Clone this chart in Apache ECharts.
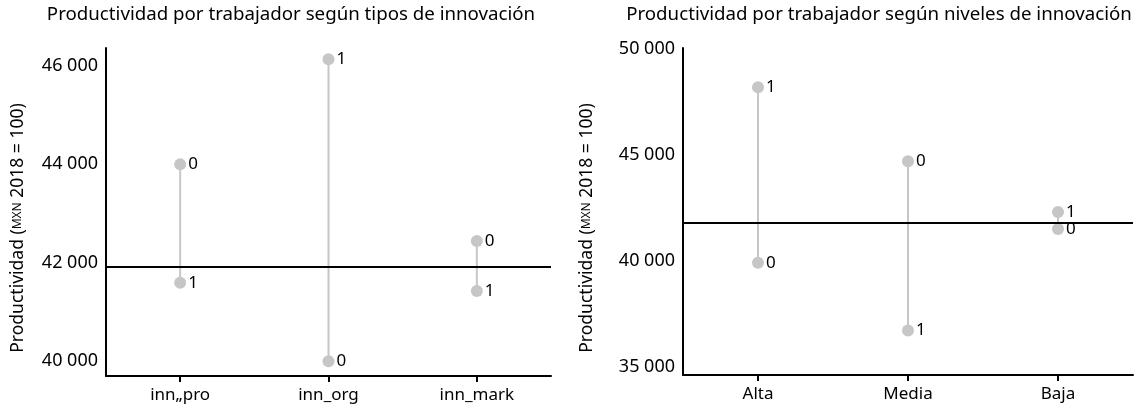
<!DOCTYPE html>
<html>
<head>
<meta charset="utf-8">
<script src="https://cdn.jsdelivr.net/npm/echarts@6/dist/echarts.min.js"></script>
<style>
  html, body { margin: 0; padding: 0; background: #fff; }
  #main { width: 1138px; height: 413px; }
</style>
</head>
<body>
<div id="main"></div>
<script>
// tipos de innovacion (left panel)
var tiposCats = ['inn\u201epro', 'inn_org', 'inn_mark'];
var tipos0 = [44000, 39990, 42440];
var tipos1 = [41590, 46140, 41420];
var tiposRef = 41920;
var tiposTicks = [40000, 42000, 44000, 46000];

// niveles de innovacion (right panel)
var nivelesCats = ['Alta', 'Media', 'Baja'];
var niveles0 = [39900, 44700, 41500];
var niveles1 = [48200, 36700, 42300];
var nivelesRef = 41800;
var nivelesTicks = [35000, 40000, 45000, 50000];

var FONT = 'Noto Sans';
var dotColor = '#c6c6c6';

function fmt(v) {
    return String(v).replace(/\B(?=(\d{3})+(?!\d))/g, ' ');
}

function pairs(vals) {
    return vals.map(function (v, i) { return [i, v]; });
}

function buildSeries(idx, cats, v0, v1, ref) {
    var segs = cats.map(function (c, i) { return [i, v0[i], v1[i]]; });
    return [
        {
            type: 'custom',
            xAxisIndex: idx, yAxisIndex: idx,
            data: segs,
            z: 1,
            renderItem: function (params, api) {
                var a = api.coord([api.value(0), api.value(1)]);
                var b = api.coord([api.value(0), api.value(2)]);
                return {
                    type: 'line',
                    shape: { x1: a[0], y1: a[1], x2: b[0], y2: b[1] },
                    style: { stroke: dotColor, lineWidth: 2 }
                };
            },
            markLine: {
                silent: true,
                symbol: 'none',
                label: { show: false },
                lineStyle: { color: '#000', width: 2, type: 'solid' },
                data: [{ yAxis: ref }]
            }
        },
        {
            type: 'scatter', name: '0',
            xAxisIndex: idx, yAxisIndex: idx,
            data: pairs(v0),
            symbolSize: 12,
            itemStyle: { color: dotColor, opacity: 1 },
            label: { show: true, position: 'right', distance: 2, formatter: '0',
                     color: '#000', fontFamily: FONT, fontSize: 17 },
            z: 3
        },
        {
            type: 'scatter', name: '1',
            xAxisIndex: idx, yAxisIndex: idx,
            data: pairs(v1),
            symbolSize: 12,
            itemStyle: { color: dotColor, opacity: 1 },
            label: { show: true, position: 'right', distance: 2, formatter: '1',
                     color: '#000', fontFamily: FONT, fontSize: 17 },
            z: 3
        }
    ];
}

function xAxis(idx, cats) {
    return {
        type: 'category', gridIndex: idx, data: cats,
        axisLine: { lineStyle: { color: '#000', width: 2 } },
        axisTick: { show: true, alignWithLabel: true, length: 6, lineStyle: { color: '#000', width: 2 } },
        axisLabel: { color: '#000', fontFamily: FONT, fontSize: 17, margin: 11 },
        splitLine: { show: false }
    };
}

function yAxis(idx, min, max, ticks) {
    return {
        type: 'value', gridIndex: idx, min: min, max: max,
        axisLine: { show: true, lineStyle: { color: '#000', width: 2 } },
        axisTick: { show: false },
        splitLine: { show: false },
        axisLabel: {
            customValues: ticks,
            color: '#000', fontFamily: FONT, fontSize: 18, margin: 8,
            formatter: fmt
        }
    };
}

function yName(x) {
    return {
        type: 'text',
        x: x, y: 228,
        rotation: Math.PI / 2,
        style: {
            text: 'Productividad ({s|MXN} 2018 = 100)',
            fill: '#000',
            font: '17.5px ' + FONT,
            align: 'center',
            verticalAlign: 'middle',
            rich: { s: { fontSize: 12, fontFamily: FONT, fill: '#000' } }
        }
    };
}

var chart = echarts.init(document.getElementById('main'));
chart.setOption({
    animation: false,
    backgroundColor: '#fff',
    title: [
        { text: 'Productividad por trabajador según tipos de innovación', left: 286, top: 0, textAlign: 'center',
          textStyle: { fontFamily: FONT, fontSize: 18.7, fontWeight: 'normal', color: '#000' } },
        { text: 'Productividad por trabajador según niveles de innovación', left: 874, top: 0, textAlign: 'center',
          textStyle: { fontFamily: FONT, fontSize: 18.7, fontWeight: 'normal', color: '#000' } }
    ],
    grid: [
        { left: 106, width: 445, top: 48, height: 328 },
        { left: 683, width: 450, top: 48, height: 327 }
    ],
    xAxis: [xAxis(0, tiposCats), xAxis(1, nivelesCats)],
    yAxis: [
        yAxis(0, 39690, 46370, tiposTicks),
        yAxis(1, 34600, 50050, nivelesTicks)
    ],
    graphic: [yName(18), yName(587)],
    series: buildSeries(0, tiposCats, tipos0, tipos1, tiposRef)
        .concat(buildSeries(1, nivelesCats, niveles0, niveles1, nivelesRef))
});
</script>
</body>
</html>
